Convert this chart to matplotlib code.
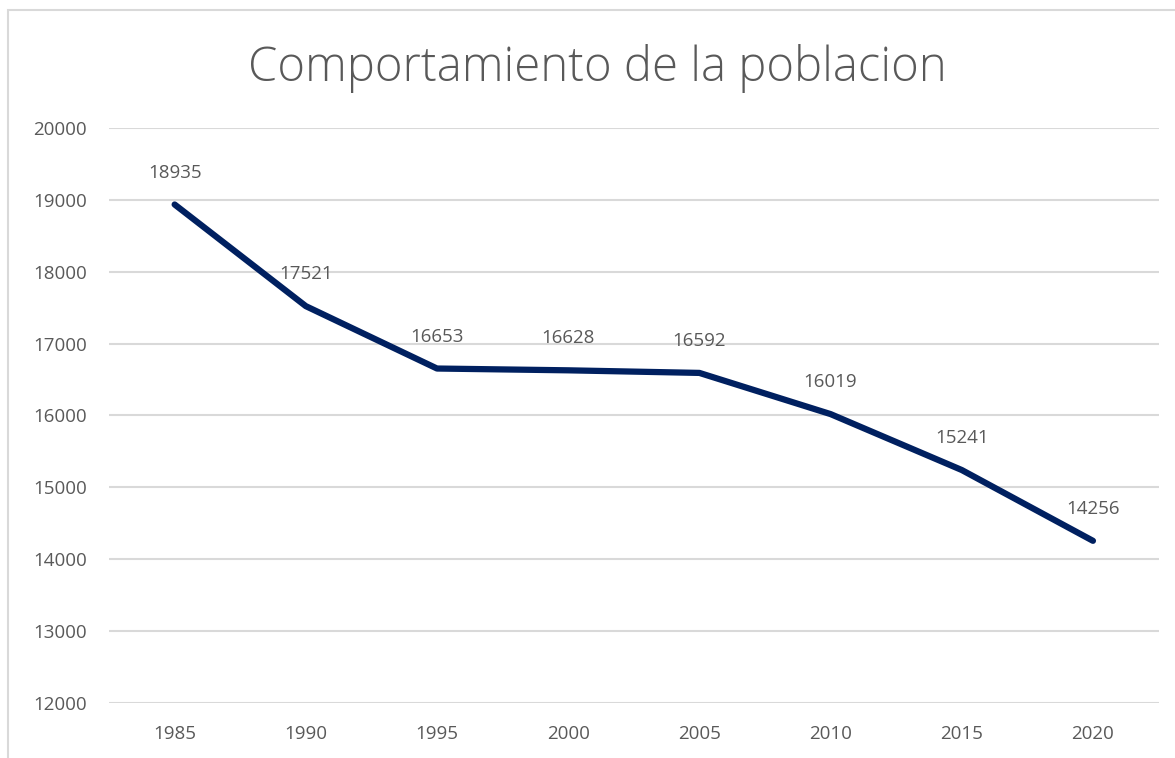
import numpy as np
import matplotlib
matplotlib.use('Agg')
import matplotlib.pyplot as plt
from matplotlib.patches import Rectangle

# data
years = ['1985', '1990', '1995', '2000', '2005', '2010', '2015', '2020']
poblacion = [18935, 17521, 16653, 16628, 16592, 16019, 15241, 14256]
yticks = [12000, 13000, 14000, 15000, 16000, 17000, 18000, 19000, 20000]

plt.rcParams['font.family'] = ['Open Sans', 'DejaVu Sans']
gray = '#595959'

fig = plt.figure(figsize=(11.75, 7.58), dpi=100)
ax = fig.add_axes([0.0928, 0.0726, 0.8932, 0.7586])

# chart border (cut off at right and bottom like the screenshot)
fig.patches.append(Rectangle((8/1175, -0.05), 1.2, 1 - 10/758 + 0.05,
                             transform=fig.transFigure, fill=False,
                             edgecolor='#d9d9d9', linewidth=1.5))

x = np.arange(len(years))
ax.plot(x, poblacion, color='#002060', linewidth=4.5, solid_capstyle='round',
        solid_joinstyle='round', zorder=3)

for xi, v in zip(x, poblacion):
    ax.annotate(str(v), (xi, v), xytext=(0, 23), textcoords='offset points',
                ha='center', va='center', fontsize=13.5, color=gray)

ax.set_xlim(-0.5, len(years) - 0.5)
ax.set_ylim(12000, 20000)
ax.set_yticks(yticks)
ax.set_xticks(x)
ax.set_xticklabels(years)
ax.yaxis.grid(True, color='#d9d9d9', linewidth=1.5)
ax.set_axisbelow(True)
for s in ax.spines.values():
    s.set_visible(False)
ax.tick_params(axis='both', length=0, labelsize=13.5, labelcolor=gray)
ax.tick_params(axis='y', pad=16)
ax.tick_params(axis='x', pad=16)

fig.text(0.508, 0.91, 'Comportamiento de la poblacion', ha='center', va='center',
         fontsize=34, color=gray, fontweight='light')

fig.savefig('out.png', dpi=100)
